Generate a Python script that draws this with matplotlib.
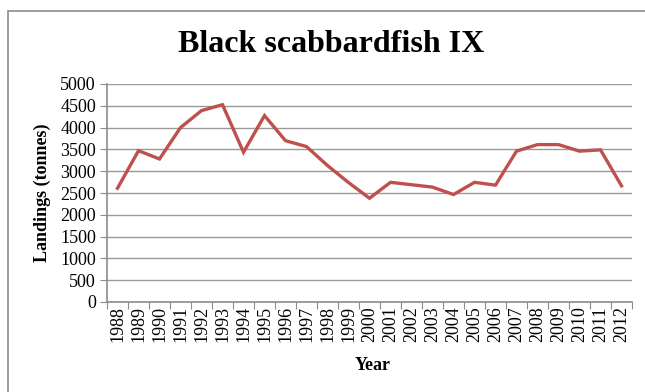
import numpy as np
import matplotlib.pyplot as plt
from matplotlib.patches import Rectangle

# Débarquements annuels de sabre noir, zone IX
annees = [str(a) for a in range(1988, 2013)]
debarquements = [2610, 3470, 3280, 4000, 4390, 4525, 3435, 4275, 3700, 3565,
                 3130, 2740, 2380, 2745, 2690, 2635, 2465, 2745, 2680, 3460,
                 3610, 3610, 3460, 3490, 2665]
yticks = list(range(0, 5001, 500))

plt.rcParams['font.family'] = ['Liberation Serif', 'DejaVu Serif']

fig = plt.figure(figsize=(6.45, 3.92), dpi=100)
ax = fig.add_axes([107 / 645, 1 - 302 / 392, 525 / 645, 218 / 392])

# cadre extérieur du graphique
fig.patches.append(Rectangle((8 / 645, -0.1), 1.2, 1 - 11 / 392 + 0.1,
                             transform=fig.transFigure, fill=False,
                             edgecolor='#8c8c8c', linewidth=1.2))

x = np.arange(len(annees))
ax.plot(x, debarquements, color='#C0504D', linewidth=2.4, solid_joinstyle='miter')

ax.set_xlim(-0.5, len(annees) - 0.5)
ax.set_ylim(0, 5000)
ax.set_yticks(yticks)
ax.set_yticklabels([str(v) for v in yticks], fontsize=13)
ax.yaxis.grid(True, color='#9a9a9a', linewidth=1.0)
ax.set_axisbelow(True)

# graduations entre les catégories, étiquettes au centre
ax.set_xticks(np.arange(-0.5, len(annees), 1.0))
ax.set_xticklabels([])
ax.set_xticks(x, minor=True)
ax.set_xticklabels(annees, minor=True, rotation=90, fontsize=13)
ax.tick_params(axis='x', which='minor', length=0, pad=3)
ax.tick_params(axis='x', which='major', length=5, color='#8c8c8c', direction='out')
ax.tick_params(axis='y', length=5, color='#8c8c8c', pad=3)

for s in ['top', 'right']:
    ax.spines[s].set_visible(False)
for s in ['left', 'bottom']:
    ax.spines[s].set_color('#8c8c8c')
    ax.spines[s].set_linewidth(1.2)

fig.text(331 / 645, 1 - 45 / 392, 'Black scabbardfish IX', ha='center', va='center',
         fontsize=23, fontweight='bold')
fig.text(42 / 645, 1 - 193 / 392, 'Landings (tonnes)', ha='center', va='center',
         rotation=90, fontsize=13, fontweight='bold')
fig.text(373 / 645, 1 - 366 / 392, 'Year', ha='center', va='center',
         fontsize=13, fontweight='bold')

fig.savefig('out.png', dpi=100)
